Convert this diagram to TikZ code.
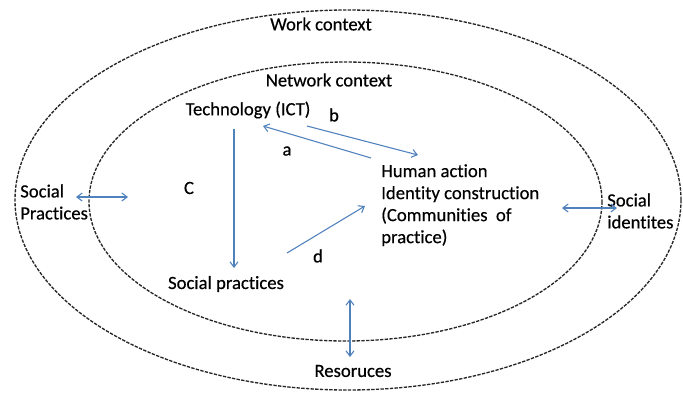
\documentclass[tikz,border=0pt]{standalone}
\usepackage{fontspec}
\setmainfont{Carlito}[Ligatures=NoCommon,FakeBold=0.4]
\usepackage{xcolor}
\usetikzlibrary{arrows.meta}

\definecolor{linkblue}{HTML}{4F81BD}

\begin{document}
\begin{tikzpicture}[x=0.75pt,y=-0.75pt,
    ctx/.style={draw=black!85,line width=1pt,dash pattern=on 2.5pt off 1pt},
    flow/.style={draw=linkblue,line width=0.8pt,-{Straight Barb[length=4pt,width=6pt]}},
    both/.style={flow,{Straight Barb[length=4pt,width=6pt]}-{Straight Barb[length=4pt,width=6pt]}},
    lbl/.style={font=\fontsize{14}{16.5}\selectfont,text=black,inner sep=0pt}]

        % Background
        \useasboundingbox[fill=white] (0,0) rectangle (683,394);

        % Contexts
        \draw[ctx] (348,200) ellipse [x radius=333, y radius=190];
        \draw[ctx] (345.5,201.5) ellipse [x radius=256.5, y radius=139.5];
        \node[lbl] (work) at (321,24) {Work context};
        \node[lbl] (network) at (329,80) {Network context};

        % Inner triangle
        \node[lbl] (tech) at (248,110) {Technology (ICT)};
        \node[lbl,anchor=north west,align=left] (human) at (381,164)
            {Human action\\Identity construction\\(Communities\ \ of\\practice)};
        \node[lbl] (socprac) at (226,284) {Social practices};

        % Inner triangle: Links
        \coordinate (c-top) at (234,129);
        \coordinate (c-bot) at (234,268);
        \coordinate (a-from) at (371,158);
        \coordinate (a-to) at (263,126);
        \coordinate (b-from) at (307,126);
        \coordinate (b-to) at (418,155);
        \coordinate (d-from) at (287,253);
        \coordinate (d-to) at (365,206);
        \draw[flow] (c-top) -- (c-bot);
        \draw[flow] (a-from) -- (a-to);
        \draw[flow] (b-from) -- (b-to);
        \draw[flow] (d-from) -- (d-to);
        \node[lbl] (lbl-a) at (287,151) {a};
        \node[lbl] (lbl-b) at (334,115) {b};
        \node[lbl] (lbl-c) at (189,188) {C};
        \node[lbl] (lbl-d) at (318,256) {d};

        % Outer labels
        \node[lbl,anchor=west,align=left] (outprac) at (20,202) {Social\\Practices};
        \node[lbl,anchor=west,align=left] (outid) at (607,211) {Social\\identites};
        \node[lbl] (res) at (353,371) {Resoruces};

        % Outer labels: Links
        \coordinate (sp-in) at (128,197);
        \coordinate (sp-out) at (76,197);
        \coordinate (si-in) at (562,208);
        \coordinate (si-out) at (617,208);
        \coordinate (r-in) at (350,299);
        \coordinate (r-out) at (350,357);
        \draw[both] (sp-out) -- (sp-in);
        \draw[both] (si-in) -- (si-out);
        \draw[both] (r-in) -- (r-out);

\end{tikzpicture}
\end{document}
